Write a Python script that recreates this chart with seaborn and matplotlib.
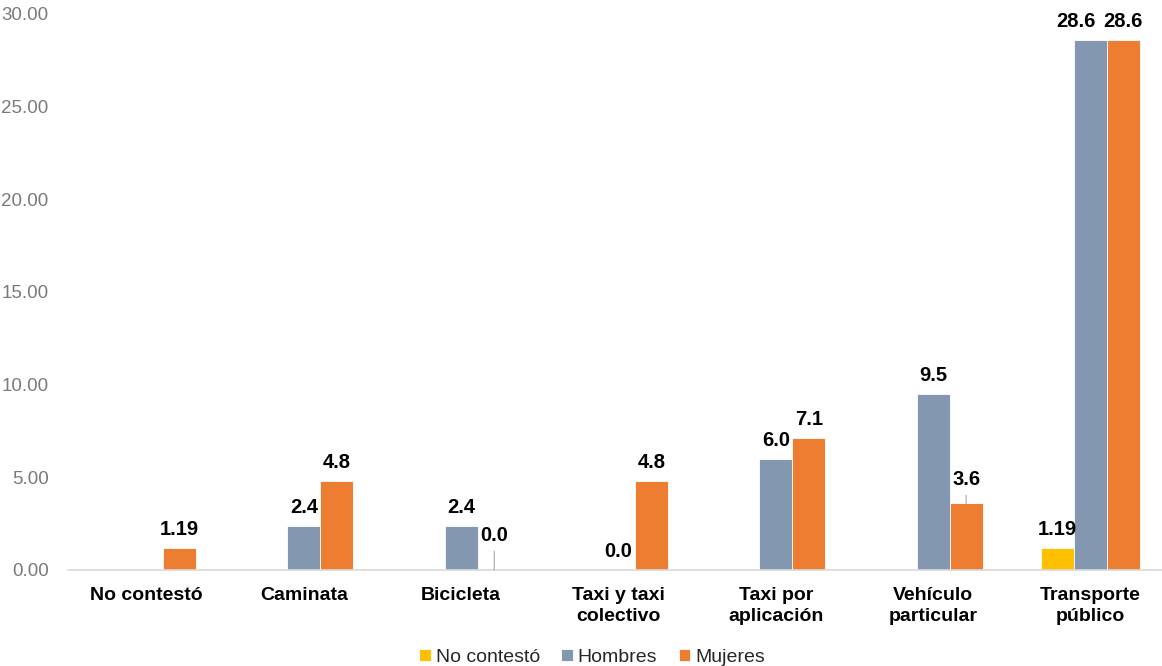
import numpy as np
import pandas as pd
import matplotlib
matplotlib.use("Agg")
import matplotlib.pyplot as plt
import seaborn as sns

# Categories and series values (NaN = no bar)
categorias = ["No contestó", "Caminata", "Bicicleta", "Taxi y taxi\ncolectivo",
              "Taxi por\naplicación", "Vehículo\nparticular", "Transporte\npúblico"]
series = ["No contestó", "Hombres", "Mujeres"]
no_contesto = [np.nan, np.nan, np.nan, np.nan, np.nan, np.nan, 1.19]
hombres = [np.nan, 2.4, 2.4, 0.0, 6.0, 9.5, 28.6]
mujeres = [1.19, 4.8, 0.0, 4.8, 7.1, 3.6, 28.6]
# decimals shown in each value label
dec_no_contesto = [2, 2, 2, 2, 2, 2, 2]
dec_hombres = [1, 1, 1, 1, 1, 1, 1]
dec_mujeres = [2, 1, 1, 1, 1, 1, 1]
yticks = [0, 5, 10, 15, 20, 25, 30]

colores = {"No contestó": "#FFC000", "Hombres": "#8497B0", "Mujeres": "#ED7D31"}

valores = {"No contestó": no_contesto, "Hombres": hombres, "Mujeres": mujeres}
decimales = {"No contestó": dec_no_contesto, "Hombres": dec_hombres, "Mujeres": dec_mujeres}

filas = []
for s in series:
    for c, v in zip(categorias, valores[s]):
        filas.append({"categoria": c, "serie": s, "valor": v})
df = pd.DataFrame(filas).dropna()

sns.set_theme(style="white")
plt.rcParams["font.family"] = ["Liberation Sans", "DejaVu Sans"]

fig = plt.figure(figsize=(11.62, 6.66), dpi=100)
ax = fig.add_axes([68 / 1162, 96 / 666, 1101 / 1162, 556 / 666])

sns.barplot(data=df, x="categoria", y="valor", hue="serie", order=categorias,
            hue_order=series, palette=colores, width=0.63, gap=0,
            edgecolor="white", linewidth=0.6, saturation=1, ax=ax, legend=True)

ax.set_xlim(-0.5, 6.5)
ax.set_ylim(0, 30)
ax.set_yticks(yticks)
ax.set_yticklabels([f"{t:.2f}" for t in yticks], color="#7a7a7a", fontsize=13.5)
ax.tick_params(axis="y", length=0, pad=14)
ax.tick_params(axis="x", length=0, pad=12)
for lbl in ax.get_xticklabels():
    lbl.set_fontweight("bold")
    lbl.set_fontsize(14)
    lbl.set_color("black")
    lbl.set_linespacing(1.3)
ax.set_xlabel("")
ax.set_ylabel("")
for side in ["left", "right", "top"]:
    ax.spines[side].set_visible(False)
ax.spines["bottom"].set_color("#d9d9d9")
ax.spines["bottom"].set_linewidth(1.2)

# Labels lifted higher with a thin leader line
leader = {("Bicicleta", "Mujeres"): 25, ("Vehículo\nparticular", "Mujeres"): 14}
# Labels nudged sideways (pixels) so neighbours don't collide
nudge = {("Transporte\npúblico", "Hombres"): -14}

for cont, s in zip(ax.containers, series):
    for bar in cont:
        cx = bar.get_x() + bar.get_width() / 2
        idx = int(round(cx))
        h = bar.get_height()
        texto = f"{valores[s][idx]:.{decimales[s][idx]}f}"
        key = (categorias[idx], s)
        dx = nudge.get(key, 0)
        if key in leader:
            ax.annotate(texto, xy=(cx, h), xytext=(dx, leader[key]),
                        textcoords="offset pixels", ha="center", va="bottom",
                        fontsize=14.5, fontweight="bold", color="black",
                        arrowprops=dict(arrowstyle="-", color="#a6a6a6", lw=0.8,
                                        shrinkA=2, shrinkB=0))
        else:
            ax.annotate(texto, xy=(cx, h), xytext=(dx, 9),
                        textcoords="offset pixels", ha="center", va="bottom",
                        fontsize=14.5, fontweight="bold", color="black")

ax.legend(loc="upper center", bbox_to_anchor=(524 / 1101, -0.128), ncol=3,
          frameon=False, fontsize=14, handlelength=0.6, handleheight=0.6,
          handletextpad=0.25, columnspacing=1.1, borderaxespad=0)

fig.savefig("out.png", dpi=100)
